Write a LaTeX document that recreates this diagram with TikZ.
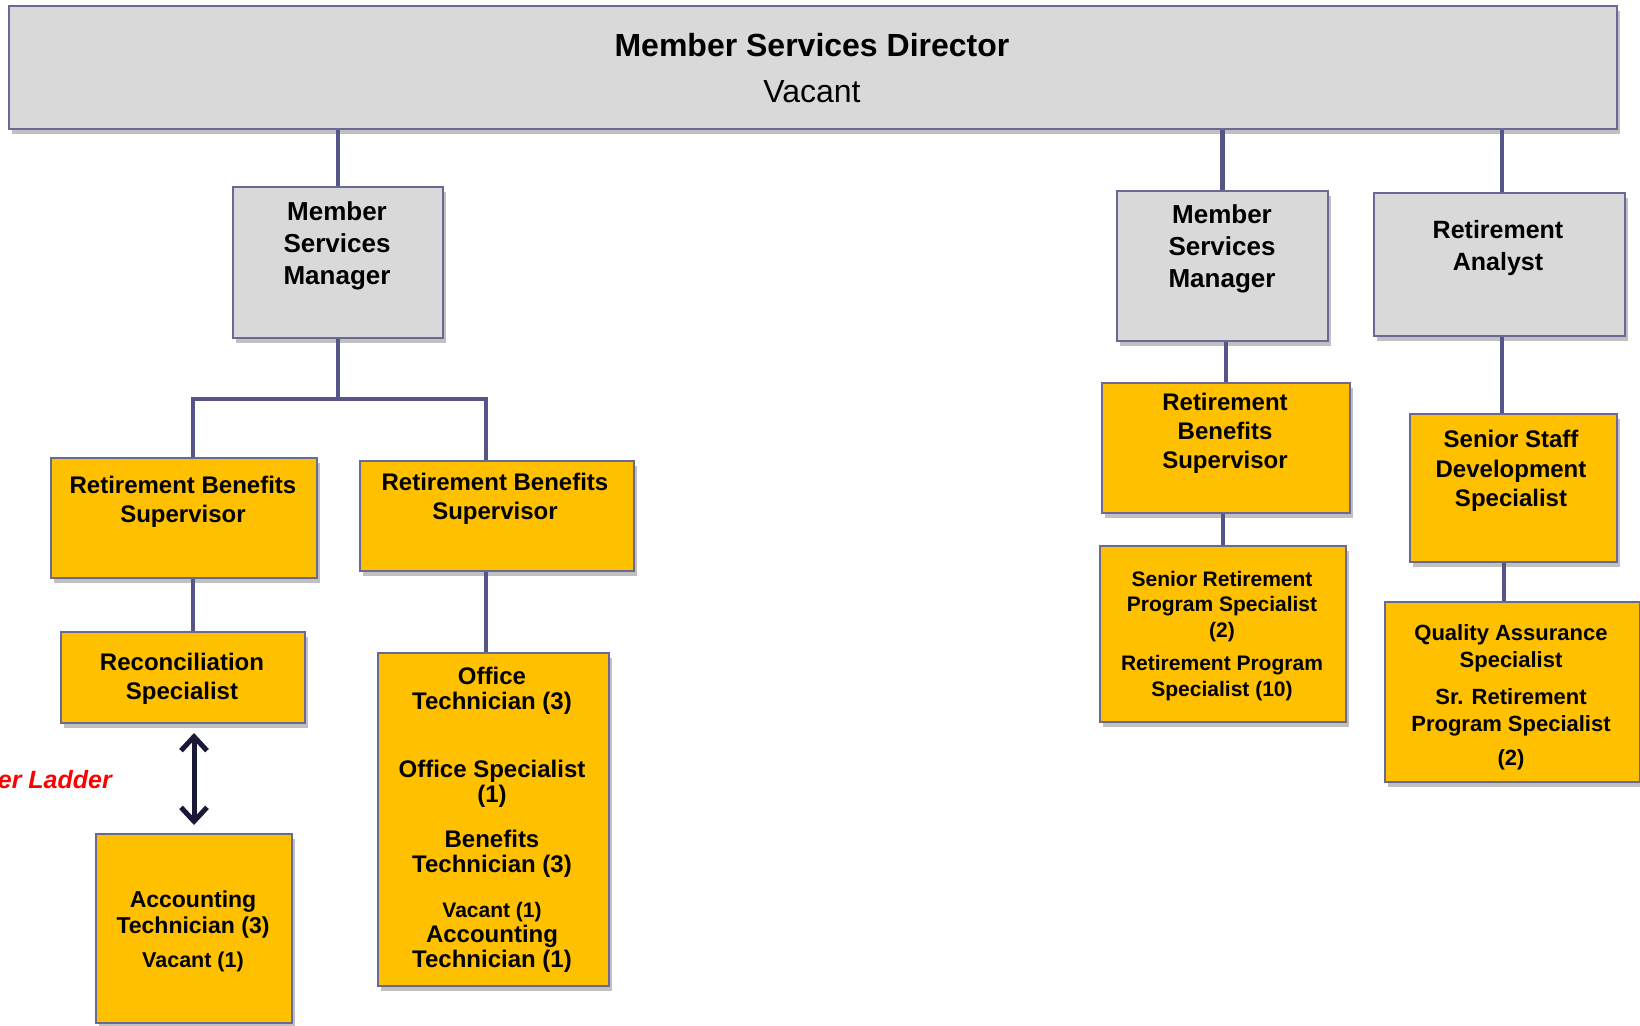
\documentclass[tikz,border=0pt]{standalone}
\usepackage{fontspec}
\setmainfont{Liberation Sans}
\usetikzlibrary{shadows,arrows.meta}
\definecolor{gboxc}{RGB}{217,217,217}
\definecolor{yboxc}{RGB}{255,192,0}
\definecolor{edgec}{RGB}{105,105,150}
\definecolor{connc}{RGB}{85,85,135}
\definecolor{navyc}{RGB}{25,25,55}
\tikzset{
 boxbase/.style={draw=edgec, line width=2pt, inner sep=0pt, anchor=north west,
   drop shadow={shadow xshift=3pt, shadow yshift=-5pt, opacity=.35, fill=black!70}},
 graybox/.style={boxbase, fill=gboxc},
 goldbox/.style={boxbase, fill=yboxc},
 lbl/.style={align=center, text=black, inner sep=0pt},
 link/.style={draw=connc, line width=4.5pt},
 dbl/.style={draw=navyc, line width=5pt, line cap=round, {Straight Barb[length=14pt,width=26pt,line width=5pt]}-{Straight Barb[length=14pt,width=26pt,line width=5pt]}},
}
\begin{document}
\begin{tikzpicture}[x=1pt,y=-1pt]
\useasboundingbox (0,0) rectangle (1640,1025);
\fill[white] (0,0) rectangle (1640,1025);
% boxes
\node[graybox, minimum width=1608pt, minimum height=123pt] (dir) at (8,5) {};
\node[graybox, minimum width=210pt, minimum height=151pt] (msm1) at (232,186) {};
\node[graybox, minimum width=211pt, minimum height=150pt] (msm2) at (1116,190) {};
\node[graybox, minimum width=251pt, minimum height=143pt] (ra) at (1373,192) {};
\node[goldbox, minimum width=266pt, minimum height=120pt] (rbs1) at (50,457) {};
\node[goldbox, minimum width=274pt, minimum height=110pt] (rbs2) at (359,460) {};
\node[goldbox, minimum width=244pt, minimum height=91pt] (rs) at (60,631) {};
\node[goldbox, minimum width=196pt, minimum height=189pt] (at) at (95,833) {};
\node[goldbox, minimum width=231pt, minimum height=333pt] (off) at (377,652) {};
\node[goldbox, minimum width=248pt, minimum height=130pt] (rbs3) at (1101,382) {};
\node[goldbox, minimum width=246pt, minimum height=176pt] (srps) at (1099,545) {};
\node[goldbox, minimum width=207pt, minimum height=148pt] (ssds) at (1409,413) {};
\node[goldbox, minimum width=255pt, minimum height=180pt] (qa) at (1384,601) {};
% texts
\node[lbl, font=\bfseries\fontsize{32}{38}\selectfont] (dirt) at (812,45) {Member Services Director};
\node[lbl, font=\fontsize{32}{38}\selectfont] (dirv) at (812,92) {Vacant};
\node[lbl, font=\bfseries\fontsize{26}{32}\selectfont] (msm1t) at (337,246) {Member\\Services\\Manager};
\node[lbl, font=\bfseries\fontsize{26}{32}\selectfont] (msm2t) at (1222,249) {Member\\Services\\Manager};
\node[lbl, font=\bfseries\fontsize{25}{32}\selectfont] (rat) at (1498,248) {Retirement\\Analyst};
\node[lbl, font=\bfseries\fontsize{24}{28.5}\selectfont] (rbs1t) at (183,502) {Retirement Benefits\\Supervisor};
\node[lbl, font=\bfseries\fontsize{24}{28.5}\selectfont] (rbs2t) at (495,499) {Retirement Benefits\\Supervisor};
\node[lbl, font=\bfseries\fontsize{24}{29}\selectfont] (rst) at (182,679) {Reconciliation\\Specialist};
\node[lbl, font=\bfseries\fontsize{23}{26.5}\selectfont] (att) at (193,931) {Accounting\\Technician (3)\\[7pt]{\fontsize{21.5}{26}\selectfont Vacant (1)}};
\node[lbl, font=\bfseries\fontsize{24}{25}\selectfont] (offt) at (492,820) {Office\\Technician (3)\\[43pt]Office Specialist\\(1)\\[20pt]Benefits\\Technician (3)\\[20pt]{\fontsize{21}{25}\selectfont Vacant (1)}\\Accounting\\Technician (1)};
\node[lbl, font=\bfseries\fontsize{24}{29}\selectfont] (rbs3t) at (1225,433) {Retirement\\Benefits\\Supervisor};
\node[lbl, font=\bfseries\fontsize{21}{25.5}\selectfont] (srpst) at (1222,636) {Senior Retirement\\Program Specialist\\(2)\\[8pt]Retirement Program\\Specialist (10)};
\node[lbl, font=\bfseries\fontsize{24}{29.5}\selectfont] (ssdst) at (1511,471) {Senior Staff\\Development\\Specialist};
\node[lbl, font=\bfseries\fontsize{22}{27}\selectfont] (qat) at (1511,697) {Quality Assurance\\Specialist\\[10pt]Sr. Retirement\\Program Specialist\\[7pt](2)};
\node[lbl, anchor=east, text=red, font=\bfseries\itshape\fontsize{25}{30}\selectfont] (ladder) at (112,780) {er Ladder};
% connectors
\draw[link] (dir.south -| msm1.north) -- (msm1.north);
\draw[link] (dir.south -| msm2.north) -- (msm2.north);
\draw[link] ([xshift=2.5pt]dir.south -| ra.north) -- ([xshift=2.5pt]ra.north);
\draw[link] (msm1.south) -- ++(0,60) coordinate (j1);
\draw[link] ([xshift=9pt]rbs1.north) |- (j1) -| ([xshift=-11pt]rbs2.north);
\draw[link] ([xshift=9pt]rbs1.south) -- ([xshift=9pt]rbs1.south |- rs.north);
\draw[link] ([xshift=-11pt]rbs2.south) -- ([xshift=-11pt]rbs2.south |- off.north);
\draw[link] (msm2.south -| rbs3.north) -- (rbs3.north);
\draw[link] (rbs3.south -| srps.north) -- (srps.north);
\draw[link] ([xshift=2.5pt]ra.south) -- ([xshift=2.5pt]ra.south |- ssds.north);
\draw[link] ([xshift=4.5pt]ra.south |- ssds.south) -- ([xshift=4.5pt]ra.south |- qa.north);
\draw[dbl, shorten <=9pt, shorten >=8pt] (at.north |- rs.south) -- (at.north);
\end{tikzpicture}
\end{document}
